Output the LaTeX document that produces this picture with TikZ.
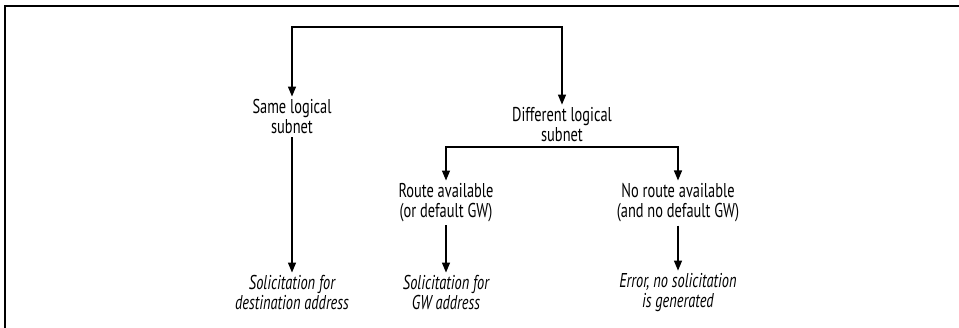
\documentclass[tikz,border=0pt]{standalone}
\usepackage{fontspec}
\setmainfont{PT Sans}[FakeStretch=0.72]
\usetikzlibrary{arrows.meta}

\begin{document}
\begin{tikzpicture}[x=1pt,y=-1pt,
  label box/.style={align=center, inner sep=3pt, font=\fontsize{20}{20}\selectfont},
  result box/.style={label box, font=\fontsize{20}{20}\selectfont\itshape},
  flow/.style={line width=1.3pt, -{Triangle[length=10pt,width=8pt]}}]
\useasboundingbox (0,0) rectangle (959,328);
% frame, cut at the page edge
\draw[line width=2pt] (5,328) -- (5,6) -- (959,6);
% nodes
\node[label box] (same) at (292,117) {Same logical\\subnet};
\node[label box] (diff) at (562,125) {Different logical\\subnet};
\node[label box] (route) at (446,203) {Route available\\(or default GW)};
\node[label box] (noroute) at (678,203) {No route available\\(and no default GW)};
\node[result box] (soldest) at (292,293) {Solicitation for\\destination address};
\node[result box] (solgw) at (446,293) {Solicitation for\\GW address};
\node[result box] (error) at (678,293) {Error, no solicitation\\is generated};
\coordinate (root) at (427,27);
\coordinate (split) at (562,147);
% connectors
\draw[flow] (root) -| (same);
\draw[flow] (root) -| (diff);
\draw[flow] (split) -| (route);
\draw[flow] (split) -| (noroute);
\draw[flow] (same) -- (soldest);
\draw[flow] (route) -- (solgw);
\draw[flow] (noroute) -- (error);
\end{tikzpicture}
\end{document}
